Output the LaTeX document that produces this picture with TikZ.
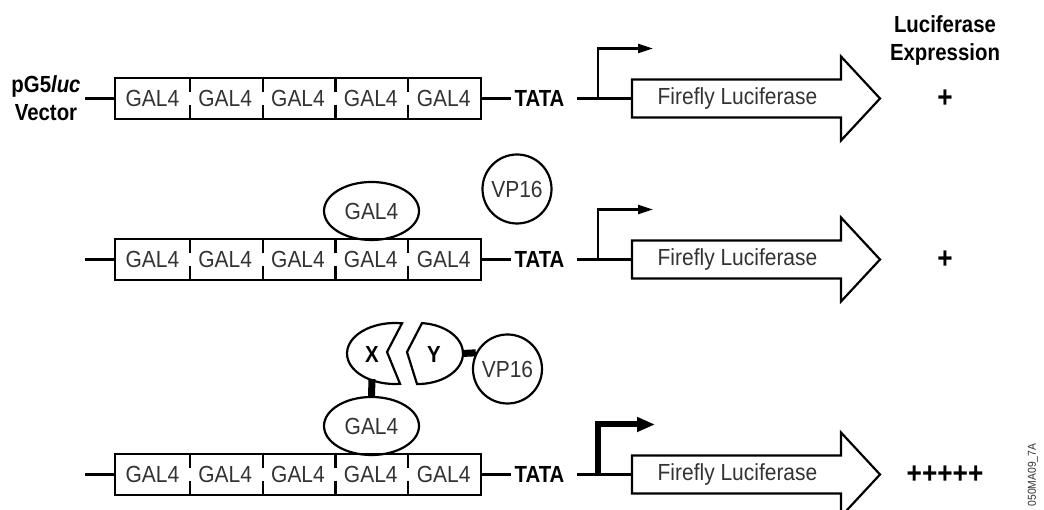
\documentclass[tikz,border=0pt]{standalone}
\usepackage{fontspec}
\setmainfont{Liberation Sans}
\newfontfamily\condfont[FakeStretch=0.875]{Liberation Sans}
\newfontfamily\litefont[FakeStretch=0.9]{Liberation Sans}
\usetikzlibrary{arrows.meta,shapes.geometric}

\begin{document}
\begin{tikzpicture}[x=1pt,y=1pt,line width=2.2pt,
  lite/.style={font=\litefont\fontsize{23.3}{27}\selectfont,text=black!80},
  cell/.style={lite,minimum width=72.8pt,minimum height=39pt,inner sep=0pt},
  lbl/.style={font=\condfont\bfseries\fontsize{23.3}{28}\selectfont,align=center,inner sep=0pt},
  tata/.style={font=\condfont\bfseries\fontsize{23.3}{28}\selectfont,inner sep=0pt},
  plus/.style={font=\condfont\bfseries\fontsize{30}{32}\selectfont,inner sep=0pt},
  prot/.style={lite,draw,ellipse,minimum width=95pt,minimum height=58pt,inner sep=0pt},
  vp/.style={lite,draw,circle,minimum size=69pt,inner sep=0pt},
  bar/.style={line width=7pt},
  prom/.style={-{Triangle[length=15pt,width=9pt]},line join=miter},
  bigprom/.style={line width=6pt,-{Triangle[length=18pt,width=14pt]},line join=miter}]
  \useasboundingbox (0,0) rectangle (1044,510);
  \foreach \r/\y/\ps/\ex/\ax in {1/411.5/prom/+/653,2/250.5/prom/+/653,3/35.5/bigprom/+++++/655}{
    \foreach \i in {1,...,5}
      \node[cell] (c\r\i) at (79.6+72.8*\i,\y) {GAL4};
    \draw (c\r1.north west) rectangle (c\r5.south east);
    \foreach \i in {1,...,4}
      \draw (c\r\i.north east) -- ++(0,-14.5) (c\r\i.south east) -- ++(0,14.5);
    \coordinate (l\r) at (85,\y);
    \draw (l\r) -- (c\r1.west);
    \node[tata] (t\r) at (539.5,\y) {TATA};
    \draw (c\r5.east) -- ([xshift=-2pt]t\r.west);
    \coordinate (s\r) at (577,\y);
    \coordinate (p\r) at (598,\y);
    \coordinate (g\r) at (632,\y);
    \coordinate (a\r) at (\ax,\y+50);
    \draw (s\r) -- (g\r);
    \draw[\ps] (p\r) |- (a\r);
    \draw (g\r) ++(0,19) -- ++(209,0) -- ++(0,23) -- ++(39,-42) -- ++(-39,-42) -- ++(0,23) -- ++(-209,0) -- cycle;
    \node[lite,inner sep=0pt] (f\r) at (737.5,\y) {Firefly Luciferase};
    \node[plus] (e\r) at (945,\y) {\ex};
  }
  \node[lbl] (vec) at (46,412) {pG5\textit{luc}\\Vector};
  \node[lbl] (hdr) at (945,469.6) {Luciferase\\Expression};
  \node[prot] (gal2) at (371.5,299) {GAL4};
  \node[vp] (vp2) at (517,321) {VP16};
  \node[prot] (gal3) at (371.5,84) {GAL4};
  \node[vp] (vp3) at (507.5,141) {VP16};
  \coordinate (xc) at (395,156.5);
  \coordinate (xn) at (387,158);
  \coordinate (xb) at (372,131);
  \coordinate (yc) at (418,156.5);
  \coordinate (yn) at (407,158);
  \coordinate (yr) at (462,156.5);
  \draw[bar] (xb) -- (gal3.north);
  \draw[bar] (yr) -- (vp3.153);
  \draw ([shift={(276:48 and 30.5)}]xc) arc[start angle=276,end angle=81.6,x radius=48,y radius=30.5] -- (xn) -- cycle;
  \draw ([shift={(84.9:45 and 30.5)}]yc) arc[start angle=84.9,end angle=-91.3,x radius=45,y radius=30.5] -- (yn) -- cycle;
  \node[tata] (xl) at (372,156) {X};
  \node[tata] (yl) at (434,156) {Y};
  \node[rotate=90,font=\litefont\fontsize{11.5}{12}\selectfont,text=black!80,inner sep=0pt] (code) at (1033,35) {050MA09\_7A};
\end{tikzpicture}
\end{document}
